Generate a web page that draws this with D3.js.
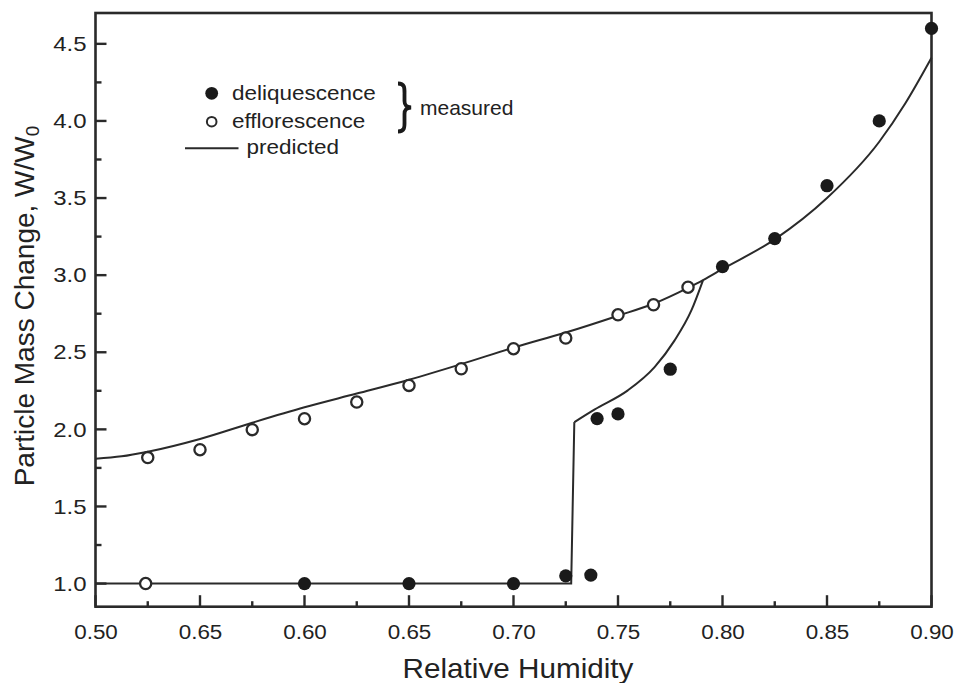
<!DOCTYPE html>
<html>
<head>
<meta charset="utf-8">
<script src="https://cdn.jsdelivr.net/npm/d3@7"></script>
<style>
  html, body { margin: 0; padding: 0; background: #fff; }
  svg { display: block; }
  text { font-family: "Liberation Sans", Arial, Helvetica, sans-serif; fill: #222; }
</style>
</head>
<body>
<svg id="chart" width="958" height="683"></svg>
<script>
// ---------------- data ----------------
const xTickValues = [0.50, 0.55, 0.60, 0.65, 0.70, 0.75, 0.80, 0.85, 0.90];
const xTickLabels = ["0.50", "0.65", "0.60", "0.65", "0.70", "0.75", "0.80", "0.85", "0.90"];
const xMinorTicks = [0.525, 0.575, 0.625, 0.675, 0.725, 0.775, 0.825, 0.875];
const yTickValues = [1.0, 1.5, 2.0, 2.5, 3.0, 3.5, 4.0, 4.5];
const yTickLabels = ["1.0", "1.5", "2.0", "2.5", "3.0", "3.5", "4.0", "4.5"];
const yMinorTicks = [1.25, 1.75, 2.25, 2.75, 3.25, 3.75, 4.25];

// measured – deliquescence (filled circles)
const deliqRH   = [0.600, 0.650, 0.700, 0.725, 0.737, 0.740, 0.750, 0.775, 0.800, 0.825, 0.850, 0.875, 0.900];
const deliqMass = [1.00, 1.00, 1.00, 1.05, 1.055, 2.07, 2.10, 2.39, 3.055, 3.237, 3.58, 4.00, 4.60];

// measured – efflorescence (open circles)
const efflRH   = [0.524, 0.525, 0.550, 0.575, 0.600, 0.625, 0.650, 0.675, 0.700, 0.725, 0.750, 0.767, 0.7835];
const efflMass = [1.00, 1.817, 1.868, 1.998, 2.069, 2.177, 2.285, 2.393, 2.523, 2.592, 2.743, 2.808, 2.922];

// predicted – upper (efflorescence / solution) branch
const predUpperRH   = [0.500, 0.5125, 0.525, 0.550, 0.575, 0.600, 0.625, 0.650, 0.675, 0.700, 0.725, 0.750, 0.7675, 0.7835, 0.7907, 0.800, 0.825, 0.850, 0.875, 0.8875, 0.900];
const predUpperMass = [1.809, 1.825, 1.855, 1.938, 2.043, 2.143, 2.232, 2.322, 2.423, 2.530, 2.628, 2.737, 2.818, 2.918, 2.968, 3.040, 3.232, 3.500, 3.865, 4.115, 4.41];

// predicted – deliquescence step
const predStepRH   = [0.500, 0.7276, 0.7291];
const predStepMass = [1.000, 1.000, 2.047];
// predicted – deliquescence branch after the step
const predRiseRH   = [0.7291, 0.7387, 0.7547, 0.7675, 0.7771, 0.7851, 0.7907];
const predRiseMass = [2.047, 2.128, 2.253, 2.404, 2.577, 2.771, 2.968];

const legendMeasured = ["deliquescence", "efflorescence"];
const legendPredicted = "predicted";
const legendGroupLabel = "measured";

// ---------------- drawing ----------------
const svg = d3.select("#chart");
const plotL = 95.5, plotR = 931.5, plotT = 13, plotB = 606.7;
const x = d3.scaleLinear().domain([0.5, 0.9]).range([plotL, plotR]);
const y = d3.scaleLinear().domain([0.85, 4.7]).range([plotB, plotT]);
const ink = "#2a2a2a";

function stretch(sel, k) {
  sel.each(function () {
    const w = this.getComputedTextLength();
    this.setAttribute("textLength", (w * k).toFixed(1));
    this.setAttribute("lengthAdjust", "spacingAndGlyphs");
  });
}

// tick marks (inward), positioned through the scales
const tickG = svg.append("g").attr("stroke", ink).attr("stroke-width", 2.4);
tickG.selectAll("line.xM").data(xTickValues).join("line").attr("class", "xM")
  .attr("x1", d => x(d)).attr("x2", d => x(d)).attr("y1", plotB).attr("y2", plotB - 11.5);
tickG.selectAll("line.xm").data(xMinorTicks).join("line").attr("class", "xm")
  .attr("x1", d => x(d)).attr("x2", d => x(d)).attr("y1", plotB).attr("y2", plotB - 5.5);
tickG.selectAll("line.yM").data(yTickValues).join("line").attr("class", "yM")
  .attr("y1", d => y(d)).attr("y2", d => y(d)).attr("x1", plotL).attr("x2", plotL + 11);
tickG.selectAll("line.ym").data(yMinorTicks).join("line").attr("class", "ym")
  .attr("y1", d => y(d)).attr("y2", d => y(d)).attr("x1", plotL).attr("x2", plotL + 6);

// tick labels via d3 axes (tick lines hidden, labels only)
const xAxisG = svg.append("g").attr("transform", `translate(0,${plotB})`)
  .call(d3.axisBottom(x).tickValues(xTickValues).tickSize(0).tickPadding(18)
    .tickFormat((d, i) => xTickLabels[i]));
xAxisG.select(".domain").remove();
xAxisG.selectAll("line").remove();
xAxisG.selectAll("text").attr("font-size", 20).attr("fill", "#222").attr("dy", "0.71em")
  .style("font-family", '"Liberation Sans", Arial, sans-serif').call(stretch, 1.12);

const yAxisG = svg.append("g").attr("transform", `translate(${plotL},0)`)
  .call(d3.axisLeft(y).tickValues(yTickValues).tickSize(0).tickPadding(9)
    .tickFormat((d, i) => yTickLabels[i]));
yAxisG.select(".domain").remove();
yAxisG.selectAll("line").remove();
yAxisG.selectAll("text").attr("font-size", 21).attr("fill", "#222")
  .style("font-family", '"Liberation Sans", Arial, sans-serif').call(stretch, 1.14);

// frame
svg.append("rect").attr("x", plotL).attr("y", plotT)
  .attr("width", plotR - plotL).attr("height", plotB - plotT)
  .attr("fill", "none").attr("stroke", ink).attr("stroke-width", 2.6);

// predicted lines
const curveLine = d3.line().x(d => x(d[0])).y(d => y(d[1])).curve(d3.curveMonotoneX);
const straightLine = d3.line().x(d => x(d[0])).y(d => y(d[1]));
svg.append("path").datum(d3.zip(predUpperRH, predUpperMass))
  .attr("d", curveLine).attr("fill", "none").attr("stroke", ink).attr("stroke-width", 2);
svg.append("path").datum(d3.zip(predStepRH, predStepMass))
  .attr("d", straightLine).attr("fill", "none").attr("stroke", ink).attr("stroke-width", 2)
  .attr("stroke-linejoin", "miter");
svg.append("path").datum(d3.zip(predRiseRH, predRiseMass))
  .attr("d", curveLine).attr("fill", "none").attr("stroke", ink).attr("stroke-width", 2);

// measured points
svg.append("g").selectAll("circle").data(d3.zip(efflRH, efflMass)).join("circle")
  .attr("cx", d => x(d[0])).attr("cy", d => y(d[1])).attr("r", 5.6)
  .attr("fill", "#fff").attr("stroke", ink).attr("stroke-width", 2.3);
svg.append("g").selectAll("circle").data(d3.zip(deliqRH, deliqMass)).join("circle")
  .attr("cx", d => x(d[0])).attr("cy", d => y(d[1])).attr("r", 6.6)
  .attr("fill", "#1a1a1a");

// axis titles
svg.append("text").attr("x", 518).attr("y", 678).attr("text-anchor", "middle")
  .attr("font-size", 28).text("Relative Humidity").call(stretch, 1.06);

const yTitle = svg.append("text")
  .attr("transform", "translate(34,306) rotate(-90)")
  .attr("text-anchor", "middle").attr("font-size", 28);
yTitle.append("tspan").text("Particle Mass Change, W/W");
yTitle.append("tspan").attr("font-size", 19).attr("dy", 5).text("0");

// legend
const lg = svg.append("g");
lg.append("circle").attr("cx", 211.7).attr("cy", 93.3).attr("r", 6.4).attr("fill", "#1a1a1a");
lg.append("circle").attr("cx", 211.7).attr("cy", 121.7).attr("r", 4.8)
  .attr("fill", "#fff").attr("stroke", ink).attr("stroke-width", 2);
lg.append("line").attr("x1", 185).attr("x2", 238.5).attr("y1", 148.3).attr("y2", 148.3)
  .attr("stroke", ink).attr("stroke-width", 2);
lg.selectAll("text.m").data(legendMeasured).join("text").attr("class", "m")
  .attr("x", 232).attr("y", (d, i) => 99.5 + i * 28.8)
  .attr("font-size", 21).text(d => d).call(stretch, 1.07);
lg.append("text").attr("x", 246.5).attr("y", 153.5).attr("font-size", 21)
  .text(legendPredicted).call(stretch, 1.07);
lg.append("path")
  .attr("d", "M398,83.5 C405.5,83.5 404.5,89 404.5,95 L404.5,101 C404.5,105 406,107 411,107.5 C406,108 404.5,110 404.5,114 L404.5,120 C404.5,126 405.5,131.5 398,131.5")
  .attr("fill", "none").attr("stroke", "#1a1a1a").attr("stroke-width", 3.8);
lg.append("text").attr("x", 420).attr("y", 115).attr("font-size", 21)
  .text(legendGroupLabel);
</script>
</body>
</html>
